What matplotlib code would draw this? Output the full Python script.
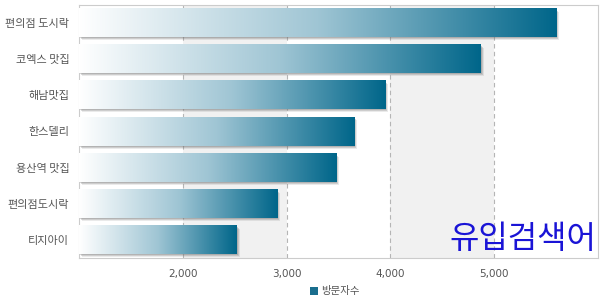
import matplotlib
matplotlib.use("Agg")
import matplotlib.pyplot as plt
import numpy as np
from matplotlib.colors import LinearSegmentedColormap
from matplotlib.patches import Rectangle
from matplotlib.transforms import offset_copy

plt.rcParams['font.family'] = ['Noto Sans CJK KR', 'DejaVu Sans']

# data
places = ['편의점 도시락', '코엑스 맛집', '해남맛집', '한스델리', '용산역 맛집', '편의점도시락', '티지아이']
visits = [5600, 4870, 3950, 3650, 3480, 2910, 2520]
xticks = [2000, 3000, 4000, 5000]
xticklabels = ['2,000', '3,000', '4,000', '5,000']

W, H = 603, 297
fig = plt.figure(figsize=(W / 100, H / 100), dpi=100)
ax = fig.add_axes([79 / W, 39 / H, (598 - 79) / W, (258 - 5) / H])

xmin, xmax = 1000, 6000

# alternating bands
for x0 in [2000, 4000]:
    ax.axvspan(x0, x0 + 1000, color='#f1f1f1', zorder=0, lw=0)
for x in xticks:
    ax.axvline(x, color='#b5b5b5', lw=0.8, ls=(0, (4, 3)), zorder=1)

cmap = LinearSegmentedColormap.from_list('tealgrad', ['#ffffff', '#9fc5d4', '#00668a'])
grad = np.linspace(0, 1, 256).reshape(1, -1)
h = 0.78
for i, v in enumerate(visits):
    # soft shadow
    for k, a in [(3, 0.15), (2, 0.25), (1, 0.3)]:
        tr = offset_copy(ax.transData, fig=fig, x=k, y=-k, units='dots')
        ax.add_patch(Rectangle((xmin, i - h / 2), v - xmin, h, facecolor='#777777',
                               alpha=a, lw=0, transform=tr, zorder=2))
    ax.imshow(grad, cmap=cmap, aspect='auto', interpolation='bilinear',
              extent=[xmin, v, i + h / 2, i - h / 2], zorder=3)

ax.set_xlim(xmin, xmax)
ax.set_ylim(len(places) - 0.5, -0.5)

ax.set_yticks(range(len(places)))
ax.set_yticklabels(places)
ax.set_xticks(xticks)
ax.set_xticklabels(xticklabels, family='DejaVu Sans')
ax.tick_params(axis='y', length=0, pad=7, labelsize=8, labelcolor='#555555')
ax.tick_params(axis='x', length=0, pad=8, labelsize=7.5, labelcolor='#555555')
for s in ax.spines.values():
    s.set_color('#cccccc')
    s.set_linewidth(0.8)

# legend
fig.patches.append(Rectangle((310 / W, (297 - 295) / H), 8 / W, 8 / H,
                             transform=fig.transFigure, facecolor='#1a6e8e', lw=0))
fig.text(321 / W, (297 - 291) / H, '방문자수', fontsize=7.5, color='#555555',
         va='center', ha='left')

# watermark
fig.text(596 / W, (297 - 239) / H, '유입검색어', fontsize=23, color='#1a14d6',
         ha='right', va='center')

fig.savefig('out.png', dpi=100)
